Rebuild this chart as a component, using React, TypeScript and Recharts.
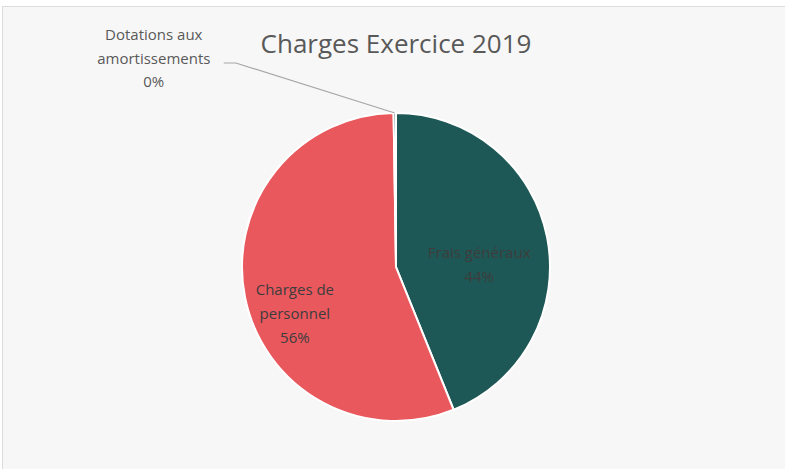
import { Cell, Pie, PieChart } from 'recharts';

const categories = ['Frais généraux', 'Charges de personnel', 'Dotations aux amortissements'];
const amounts = [44, 56, 0.25];
const sliceColors = ['#1e5856', '#e9585d'];
const chartTitle = 'Charges Exercice 2019';

const data = categories.map((name, i) => ({ name, value: amounts[i] }));

const RAD = Math.PI / 180;
const FONT = '"Open Sans", Lato, sans-serif';

function renderLabel(props: any) {
  const { cx, cy, midAngle, outerRadius, percent, index, name } = props;
  const pct = `${Math.round(percent * 100)}%`;

  if (index === 2) {
    // tiny slice: label sits out top-left with a leader line
    const ex = cx + outerRadius * Math.cos(-midAngle * RAD);
    const ey = cy + outerRadius * Math.sin(-midAngle * RAD);
    const lx = ex - 241;
    const ly = ey - 55;
    const words = String(name).split(' ');
    const lines = [words.slice(0, 2).join(' '), words.slice(2).join(' '), pct];
    return (
      <g>
        <polyline
          points={`${lx + 70},${ly + 5} ${lx + 82},${ly + 5} ${ex},${ey}`}
          fill="none"
          stroke="#a6a6a6"
          strokeWidth={1.2}
        />
        <text x={lx} y={ly - 18} textAnchor="middle" fill="#595959" fontSize={15} fontFamily={FONT}>
          {lines.map((t, i) => (
            <tspan key={i} x={lx} dy={i === 0 ? 0 : 23.5}>
              {t}
            </tspan>
          ))}
        </text>
      </g>
    );
  }

  const k = index === 0 ? 0.55 : 0.67;
  const shift = index === 0 ? 14 : 27;
  const x = cx + k * outerRadius * Math.cos(-midAngle * RAD);
  const y = cy + k * outerRadius * Math.sin(-midAngle * RAD) + shift;
  const lines = index === 0 ? [String(name), pct] : ['Charges de', 'personnel', pct];
  const lh = 24;
  const top = y - ((lines.length - 1) * lh) / 2 + 5;
  return (
    <text x={x} y={top} textAnchor="middle" fill="#3d3d3d" fontSize={15} fontFamily={FONT}>
      {lines.map((t, i) => (
        <tspan key={i} x={x} dy={i === 0 ? 0 : lh}>
          {t}
        </tspan>
      ))}
    </text>
  );
}

export default function App() {
  return (
    <div
      style={{
        position: 'absolute',
        left: 0,
        top: 0,
        width: 785,
        height: 469,
        overflow: 'hidden',
        background: '#ffffff',
      }}
    >
      <div
        style={{
          position: 'absolute',
          left: 2,
          top: 6,
          width: 800,
          height: 480,
          background: '#f7f7f7',
          borderTop: '1px solid #dcdcdc',
          borderLeft: '1px solid #dcdcdc',
        }}
      />
      <PieChart
        width={785}
        height={469}
        margin={{ top: 0, right: 0, bottom: 0, left: 0 }}
        style={{ position: 'absolute', left: 0, top: 0 }}
      >
        <text
          x={396}
          y={53}
          textAnchor="middle"
          fill="#595959"
          fontSize={26}
          fontFamily={FONT}
        >
          {chartTitle}
        </text>
        <Pie
          data={data}
          dataKey="value"
          nameKey="name"
          cx={396}
          cy={267}
          outerRadius={154}
          startAngle={90}
          endAngle={-270}
          stroke="#ffffff"
          strokeWidth={2}
          label={renderLabel}
          labelLine={false}
          isAnimationActive={false}
        >
          {data.map((d, i) => (
            <Cell key={d.name} fill={sliceColors[i % sliceColors.length]} />
          ))}
        </Pie>
      </PieChart>
    </div>
  );
}
